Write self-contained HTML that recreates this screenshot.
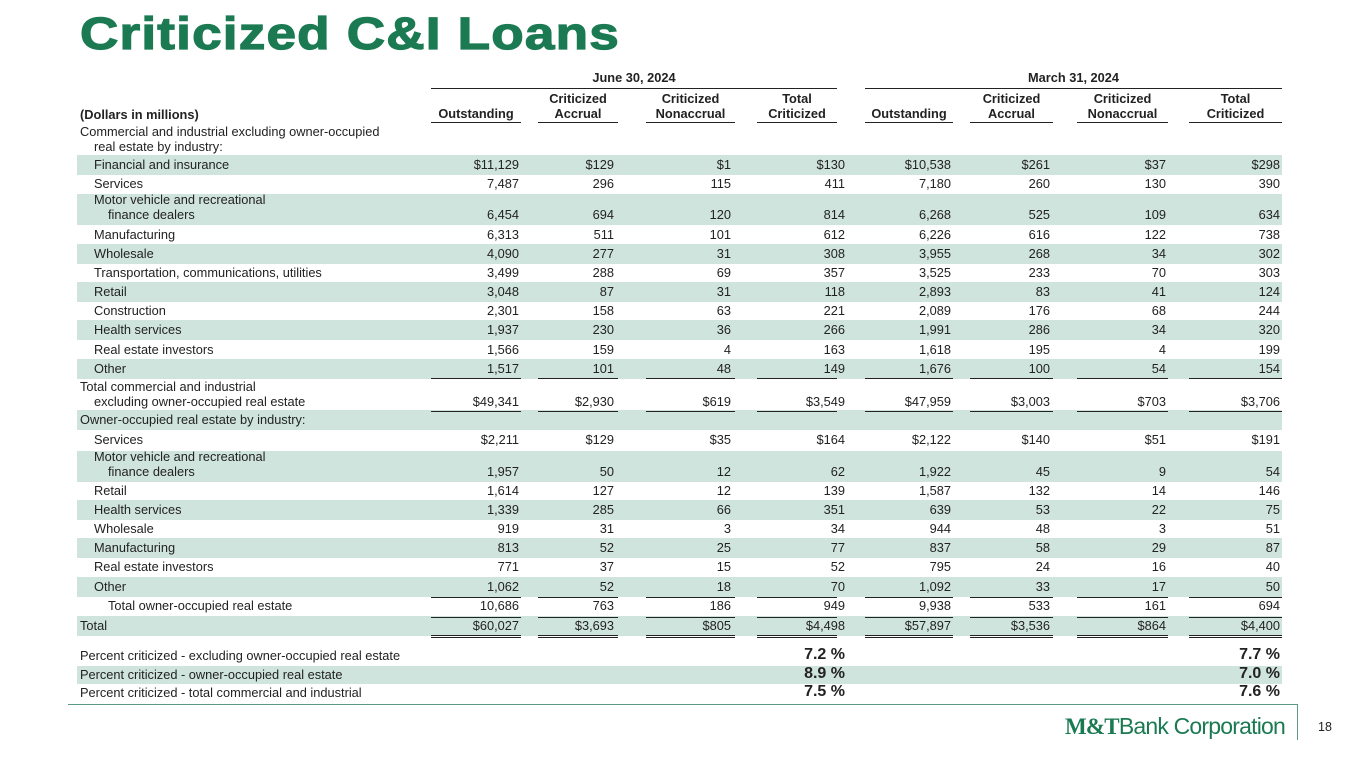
<!DOCTYPE html>
<html><head><meta charset="utf-8"><style>
body{margin:0;width:1365px;height:768px;background:#fff;position:relative;overflow:hidden;font-family:"Liberation Sans",Arial,sans-serif;color:#222}
.a{position:absolute;white-space:nowrap}
.t{font-size:12.8px}
.b{font-weight:bold}
.band{position:absolute;left:77px;width:1205px;background:#d0e4de}
.r{text-align:right}
.ln{position:absolute;height:1px;background:#222}
</style></head><body>
<div class="a b" style="left:80px;top:8px;font-size:45px;color:#1b7a52;letter-spacing:1px;transform:scaleX(1.18);transform-origin:left top;-webkit-text-stroke:1.2px #1b7a52">Criticized C&amp;I Loans</div>
<div class="a t b" style="left:431px;width:406px;text-align:center;top:70px">June 30, 2024</div>
<div class="a t b" style="left:865px;width:417px;text-align:center;top:70px">March 31, 2024</div>
<div class="ln" style="left:431px;width:406px;top:88px"></div>
<div class="ln" style="left:865px;width:417px;top:88px"></div>
<div class="a t b" style="left:80px;top:107px">(Dollars in millions)</div>
<div id="root"></div>
<div class="a" style="left:68px;top:704px;width:1230px;height:1px;background:#5a9a80"></div>
<div class="a" style="left:1297px;top:704px;width:1px;height:36px;background:#5a9a80"></div>
<div class="a" style="left:1065px;top:713px;font-size:23px;color:#1b7a52;letter-spacing:-0.8px"><span style="font-family:'Liberation Serif',serif;font-weight:bold">M&amp;T</span><span style="font-weight:300">Bank Corporation</span></div>
<div class="a" style="left:1318px;top:720px;font-size:12.5px">18</div>
<script>
const root=document.getElementById('root');
function el(cls,txt,style,name){const d=document.createElement('div');d.className=cls;d.textContent=txt;d.style.cssText=style;


root.appendChild(d);return d;}
const colR=[519,614,731,845,951,1050,1166,1280];
const hdrL=[431,538,646,757,865,970,1077,1189];
const hdrR=[521,618,735,837,953,1053,1168,1282];
const hdrs=[["","Outstanding"],["Criticized","Accrual"],["Criticized","Nonaccrual"],["Total","Criticized"],["","Outstanding"],["Criticized","Accrual"],["Criticized","Nonaccrual"],["Total","Criticized"]];
hdrs.forEach((h,i)=>{const d=el('a t b r',"",`left:${hdrL[i]}px;width:${hdrR[i]-hdrL[i]}px;top:91px;line-height:15px;text-align:center`,'column-header');d.innerHTML=h[0]+'<br>'+h[1];
const l=el('ln','',`left:${hdrL[i]}px;width:${hdrR[i]-hdrL[i]}px;top:122px`,'header-underline');});
const rows=[
["Commercial and industrial excluding owner-occupied|real estate by industry:",null,147,0,0],
["Financial and insurance",["$11,129","$129","$1","$130","$10,538","$261","$37","$298"],165,1,14],
["Services",["7,487","296","115","411","7,180","260","130","390"],184,0,14],
["Motor vehicle and recreational|finance dealers",["6,454","694","120","814","6,268","525","109","634"],215,1,14],
["Manufacturing",["6,313","511","101","612","6,226","616","122","738"],235,0,14],
["Wholesale",["4,090","277","31","308","3,955","268","34","302"],254,1,14],
["Transportation, communications, utilities",["3,499","288","69","357","3,525","233","70","303"],273,0,14],
["Retail",["3,048","87","31","118","2,893","83","41","124"],292,1,14],
["Construction",["2,301","158","63","221","2,089","176","68","244"],311,0,14],
["Health services",["1,937","230","36","266","1,991","286","34","320"],330,1,14],
["Real estate investors",["1,566","159","4","163","1,618","195","4","199"],350,0,14],
["Other",["1,517","101","48","149","1,676","100","54","154"],369,1,14],
["Total commercial and industrial|excluding owner-occupied real estate",["$49,341","$2,930","$619","$3,549","$47,959","$3,003","$703","$3,706"],402,0,0],
["Owner-occupied real estate by industry:",null,420,1,0],
["Services",["$2,211","$129","$35","$164","$2,122","$140","$51","$191"],440,0,14],
["Motor vehicle and recreational|finance dealers",["1,957","50","12","62","1,922","45","9","54"],472,1,14],
["Retail",["1,614","127","12","139","1,587","132","14","146"],491,0,14],
["Health services",["1,339","285","66","351","639","53","22","75"],510,1,14],
["Wholesale",["919","31","3","34","944","48","3","51"],529,0,14],
["Manufacturing",["813","52","25","77","837","58","29","87"],548,1,14],
["Real estate investors",["771","37","15","52","795","24","16","40"],567,0,14],
["Other",["1,062","52","18","70","1,092","33","17","50"],587,1,14],
["Total owner-occupied real estate",["10,686","763","186","949","9,938","533","161","694"],606,0,28],
["Total",["$60,027","$3,693","$805","$4,498","$57,897","$3,536","$864","$4,400"],626,1,0]
];
rows.forEach(r=>{const two=r[0].includes('|');const y=r[2];
if(r[3]){const top=two?y-21:y-10;const h=two?31:20;el('band','',`top:${top}px;height:${h}px`,'row-shading');}
const parts=r[0].split('|');
const d=el('a t','',`left:${80+r[4]}px;top:${two?y-23:y-8}px;line-height:15px`,'row-label');
d.innerHTML=parts[0]+(parts[1]?'<br><span style="padding-left:14px">'+parts[1]+'</span>':'');
if(r[1])r[1].forEach((v,i)=>el('a t r',v,`left:${colR[i]-100}px;width:100px;top:${y-8}px`,'cell-value'));
});
[378,597,617].forEach(y=>hdrL.forEach((l,i)=>el('ln','',`left:${l}px;width:${hdrR[i]-l}px;top:${y}px`,'total-rule')));
[411].forEach(y=>hdrL.forEach((l,i)=>el('ln','',`left:${l}px;width:${hdrR[i]-l}px;top:${y}px`,'total-underline')));
hdrL.forEach((l,i)=>{el('ln','',`left:${l}px;width:${hdrR[i]-l}px;top:635px`,'double-underline');el('ln','',`left:${l}px;width:${hdrR[i]-l}px;top:637px`,'double-underline');});
const pct=[["Percent criticized - excluding owner-occupied real estate","7.2 %","7.7 %",656,0],["Percent criticized - owner-occupied real estate","8.9 %","7.0 %",675,1],["Percent criticized - total commercial and industrial","7.5 %","7.6 %",693,0]];
pct.forEach(p=>{if(p[4])el('band','',`top:${p[3]-9}px;height:18px`,'row-shading');
el('a t',p[0],`left:80px;top:${p[3]-8}px`,'percent-label');
el('a b r',p[1],`left:745px;width:100px;top:${p[3]-10}px;font-size:16px`,'percent-june');
el('a b r',p[2],`left:1180px;width:100px;top:${p[3]-10}px;font-size:16px`,'percent-march');});
</script>
</body></html>
